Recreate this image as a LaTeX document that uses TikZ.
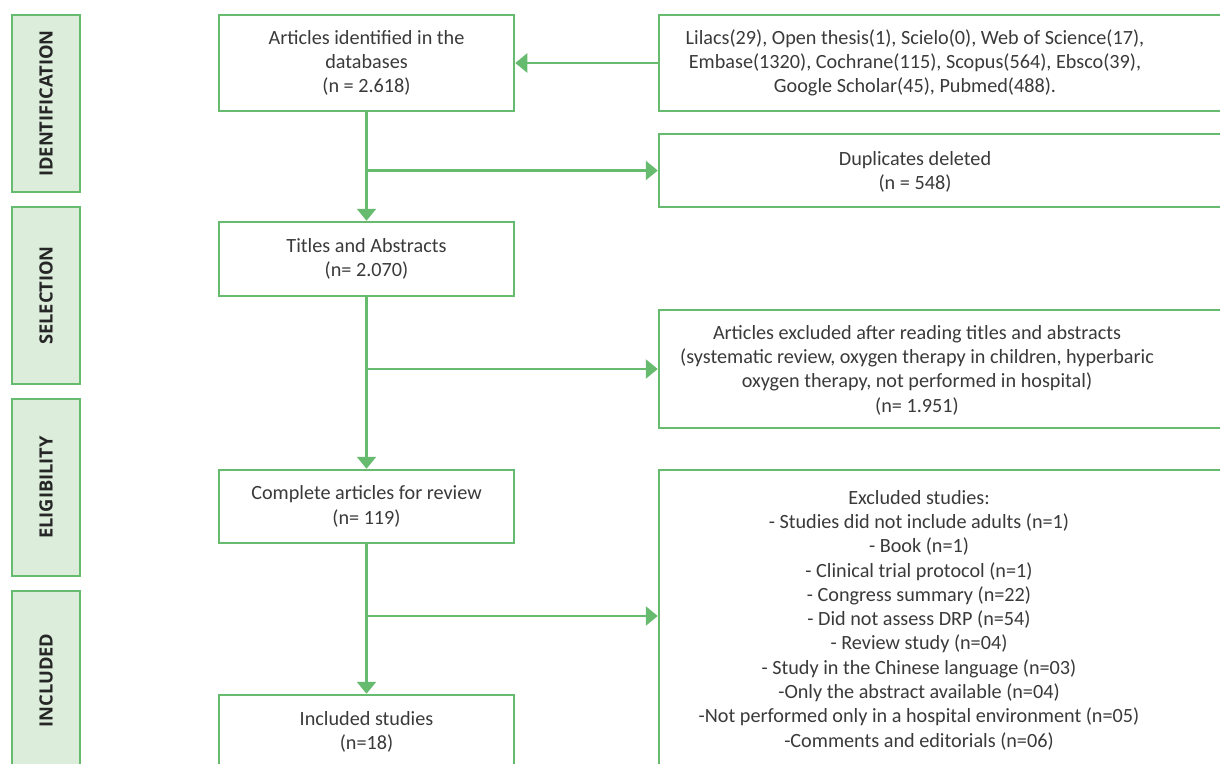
\documentclass[tikz,border=0pt]{standalone}
\usepackage{fontspec}
\setmainfont{Carlito}
\newfontfamily\lblfont{Open Sans}
\usetikzlibrary{arrows.meta}
\definecolor{grn}{HTML}{66BB6E}
\definecolor{lgrn}{HTML}{DDEDDC}
\definecolor{txt}{HTML}{3A3A3A}
\begin{document}
\begin{tikzpicture}[x=1pt,y=-1pt,
  box/.style={draw=grn, line width=2.5pt, fill=white, inner sep=0pt, text=txt, align=center,
    font=\fontsize{20.2}{24.3}\selectfont},
  side/.style={draw=grn, line width=2.5pt, fill=lgrn, minimum width=68pt, inner sep=0pt},
  txtn/.style={text=txt, font=\fontsize{20.2}{24.3}\selectfont, align=center, inner sep=0pt},
  lbl/.style={text=black!85, font=\lblfont\bfseries\fontsize{18.3}{20}\selectfont, rotate=90, inner sep=0pt},
  arr/.style={draw=grn, line width=2.5pt, -{Triangle[length=12pt,width=19pt]}}]
\useasboundingbox (0,0) rectangle (1220,763);
\clip (0,0) rectangle (1220,763);
% side boxes
\node[side, minimum height=177pt] (S1) at (46,103.5) {};
\node[side, minimum height=177pt] (S2) at (46,295.5) {};
\node[side, minimum height=177pt] (S3) at (46,487.5) {};
\node[side, minimum height=179pt] (S4) at (46,680.5) {};
\node[lbl] (L1) at (S1.center) {IDENTIFICATION};
\node[lbl] (L2) at (S2.center) {SELECTION};
\node[lbl] (L3) at (S3.center) {ELIGIBILITY};
\node[lbl] (L4) at (S4.center) {INCLUDED};
% left boxes
\node[box, minimum width=295pt, minimum height=96pt] (A) at (366.5,63)
  {Articles identified in the\\databases\\(n = 2.618)};
\node[box, minimum width=295pt, minimum height=74pt] (B) at (366.5,259)
  {Titles and Abstracts\\(n= 2.070)};
\node[box, minimum width=295pt, minimum height=73pt] (C) at (366.5,506.5)
  {Complete articles for review\\(n= 119)};
\node[box, minimum width=295pt, minimum height=95pt] (D) at (366.5,742.5) {};
\node[txtn] (Dt) at (366.5,732) {Included studies\\(n=18)};
% right boxes
\node[box, minimum width=581pt, minimum height=96pt] (R1) at (949.5,63) {};
\node[box, minimum width=581pt, minimum height=73pt] (R2) at (949.5,170.5) {};
\node[box, minimum width=581pt, minimum height=118pt] (R3) at (949.5,369) {};
\node[box, minimum width=581pt, minimum height=320pt] (R4) at (949.5,630) {};
\node[txtn] (R1t) at (915,63) {Lilacs(29), Open thesis(1), Scielo(0), Web of Science(17),\\
  Embase(1320), Cochrane(115), Scopus(564), Ebsco(39),\\Google Scholar(45), Pubmed(488).};
\node[txtn] (R2t) at (915,172) {Duplicates deleted\\(n = 548)};
\node[txtn] (R3t) at (917,370) {Articles excluded after reading titles and abstracts\\
  (systematic review, oxygen therapy in children, hyperbaric\\
  oxygen therapy, not performed in hospital)\\(n= 1.951)};
\node[txtn] (R4t) at (919,620) {Excluded studies:\\
  - Studies did not include adults (n=1)\\
  - Book (n=1)\\
  - Clinical trial protocol (n=1)\\
  - Congress summary (n=22)\\
  - Did not assess DRP (n=54)\\
  - Review study (n=04)\\
  - Study in the Chinese language (n=03)\\
  -Only the abstract available (n=04)\\
  -Not performed only in a hospital environment (n=05)\\
  -Comments and editorials (n=06)};
% connectors
\draw[arr] (R1.west) -- (A.east);
\draw[arr] (A.south) -- (B.north);
\coordinate (j1) at (A.south |- R2.west);
\draw[arr] (j1) -- (R2.west);
\draw[arr] (B.south) -- (C.north);
\coordinate (j2) at (B.south |- R3.west);
\draw[arr] (j2) -- (R3.west);
\draw[arr] (C.south) -- (D.north);
\coordinate (j3) at (366.5,616);
\coordinate (e3) at (R4.west |- j3);
\draw[arr] (j3) -- (e3);
\end{tikzpicture}
\end{document}
